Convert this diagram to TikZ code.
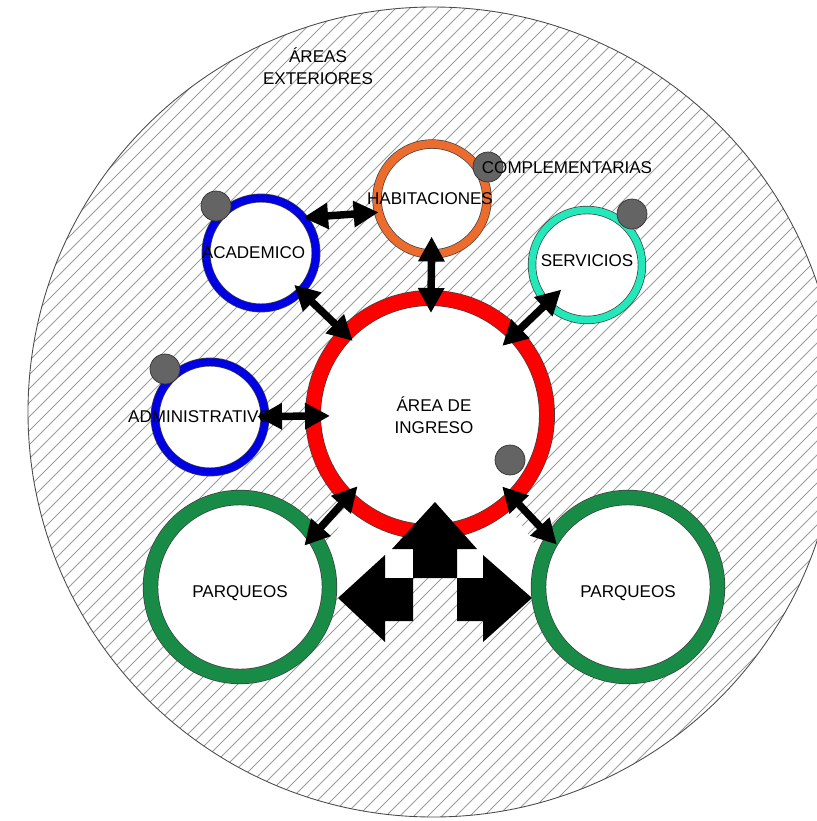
\documentclass[tikz,border=0pt]{standalone}
\usepackage{fontspec}
\setmainfont{Liberation Sans}
\usepackage{xcolor}
\usepackage{tikz}
\usetikzlibrary{arrows.meta}

\definecolor{ingresored}{RGB}{255,0,0}
\definecolor{habitorange}{RGB}{236,108,45}
\definecolor{acadblue}{RGB}{0,0,228}
\definecolor{servteal}{RGB}{35,232,185}
\definecolor{parkgreen}{RGB}{24,140,70}
\definecolor{dotgray}{RGB}{100,100,100}
\definecolor{hatchgray}{RGB}{150,160,160}

\begin{document}
\begin{tikzpicture}[
      x=0.02cm, y=-0.02cm,
      ring/.style={circle, draw=black!75, line width=0.4pt, fill=white, inner sep=0pt, outer sep=0pt},
      small/.style={ring, minimum size=2.2cm, double distance=0.14cm},
      park/.style={ring, minimum size=3.58cm, double distance=0.28cm},
      dot/.style={circle, fill=dotgray, draw=black!80, line width=0.4pt, minimum size=0.6cm, inner sep=0pt},
      lbl/.style={font=\fontsize{9.7}{12.2}\selectfont, align=center, inner sep=0pt},
      link/.style={{Triangle[length=0.5cm,width=0.5cm]}-{Triangle[length=0.5cm,width=0.5cm]}, line width=0.15cm},
      hatch/.style={hatchgray, line width=0.45pt}
    ]
      \clip (0,0) rectangle (817,821);

      % areas exteriores
      \begin{scope}
        \clip (433,412) circle [radius=405];
        \foreach \c in {250,264,...,1450}
          \draw[hatch] (\c,0) -- ++(-900,900);
      \end{scope}
      \draw[black!70, line width=0.5pt] (433,412) circle [radius=405];
      \node[lbl] (ext) at (318,66) {ÁREAS\\EXTERIORES};

      % no hatch round the access arrow
      \fill[white] (338,598) -- (322,555) -- (350,508) -- (510,508) -- (542,555) -- (532,598)
        -- (483,555) -- (483,578) -- (385,578) -- (385,555) -- cycle;

      \node[ring, minimum size=4.68cm, double=ingresored, double distance=0.29cm,
        label={[lbl, xshift=0.08cm]center:ÁREA DE\\INGRESO}] (ingreso) at (430,415) {};
      \node[small, double=habitorange, double distance=0.16cm,
        label={[lbl, xshift=-0.04cm]center:HABITACIONES}] (habit) at (432,199) {};
      \node[small, double=acadblue, double distance=0.15cm,
        label={[lbl, xshift=-0.15cm]center:ACADEMICO}] (acad) at (261,253) {};
      \node[small, double=servteal,
        label={[lbl, yshift=0.08cm]center:SERVICIOS}] (serv) at (587,265) {};
      \node[small, double=acadblue, double distance=0.15cm,
        label={[lbl, xshift=-0.2cm]center:ADMINISTRATIVO}] (admin) at (210,417) {};
      \node[park, double=parkgreen,
        label={[lbl, yshift=-0.12cm]center:PARQUEOS}] (parqL) at (240,587) {};
      \node[park, double=parkgreen,
        label={[lbl, yshift=-0.12cm]center:PARQUEOS}] (parqR) at (628,587) {};

      \draw[link] (acad.40) -- (habit.194);
      \draw[link, shorten <=-0.35cm, shorten >=-0.3cm] (habit) -- (ingreso);
      \draw[link, shorten <=-0.18cm, shorten >=-0.2cm] (acad) -- (ingreso);
      \draw[link, shorten <=-0.39cm, shorten >=-0.34cm] (serv) -- (ingreso);
      \draw[link, shorten <=-0.16cm, shorten >=-0.34cm] (admin) -- (ingreso);
      \draw[link, shorten <=-0.27cm, shorten >=-0.31cm] (parqL.35) -- (ingreso.225);
      \draw[link, shorten <=-0.14cm, shorten >=-0.31cm] (parqR.148) -- (ingreso.-45);

      \node[dot] (dotA) at (216,206) {};
      \node[dot] (dotH) at (488,167) {};
      \node[dot] (dotS) at (632,214) {};
      \node[dot] (dotD) at (165,369) {};
      \node[dot] (dotI) at (510,460) {};
      \node[lbl] (compl) at (567,168) {COMPLEMENTARIAS};

      % access arrow
      \fill (435,502) -- (477,549) -- (457,549) -- (457,578) -- (413,578) -- (413,549) -- (392,549) -- cycle;
      \fill (338,598) -- (385,555) -- (385,578) -- (413,578) -- (413,621) -- (385,621) -- (385,642) -- cycle;
      \fill (532,598) -- (483,555) -- (483,578) -- (457,578) -- (457,621) -- (483,621) -- (483,642) -- cycle;
    \end{tikzpicture}
\end{document}
